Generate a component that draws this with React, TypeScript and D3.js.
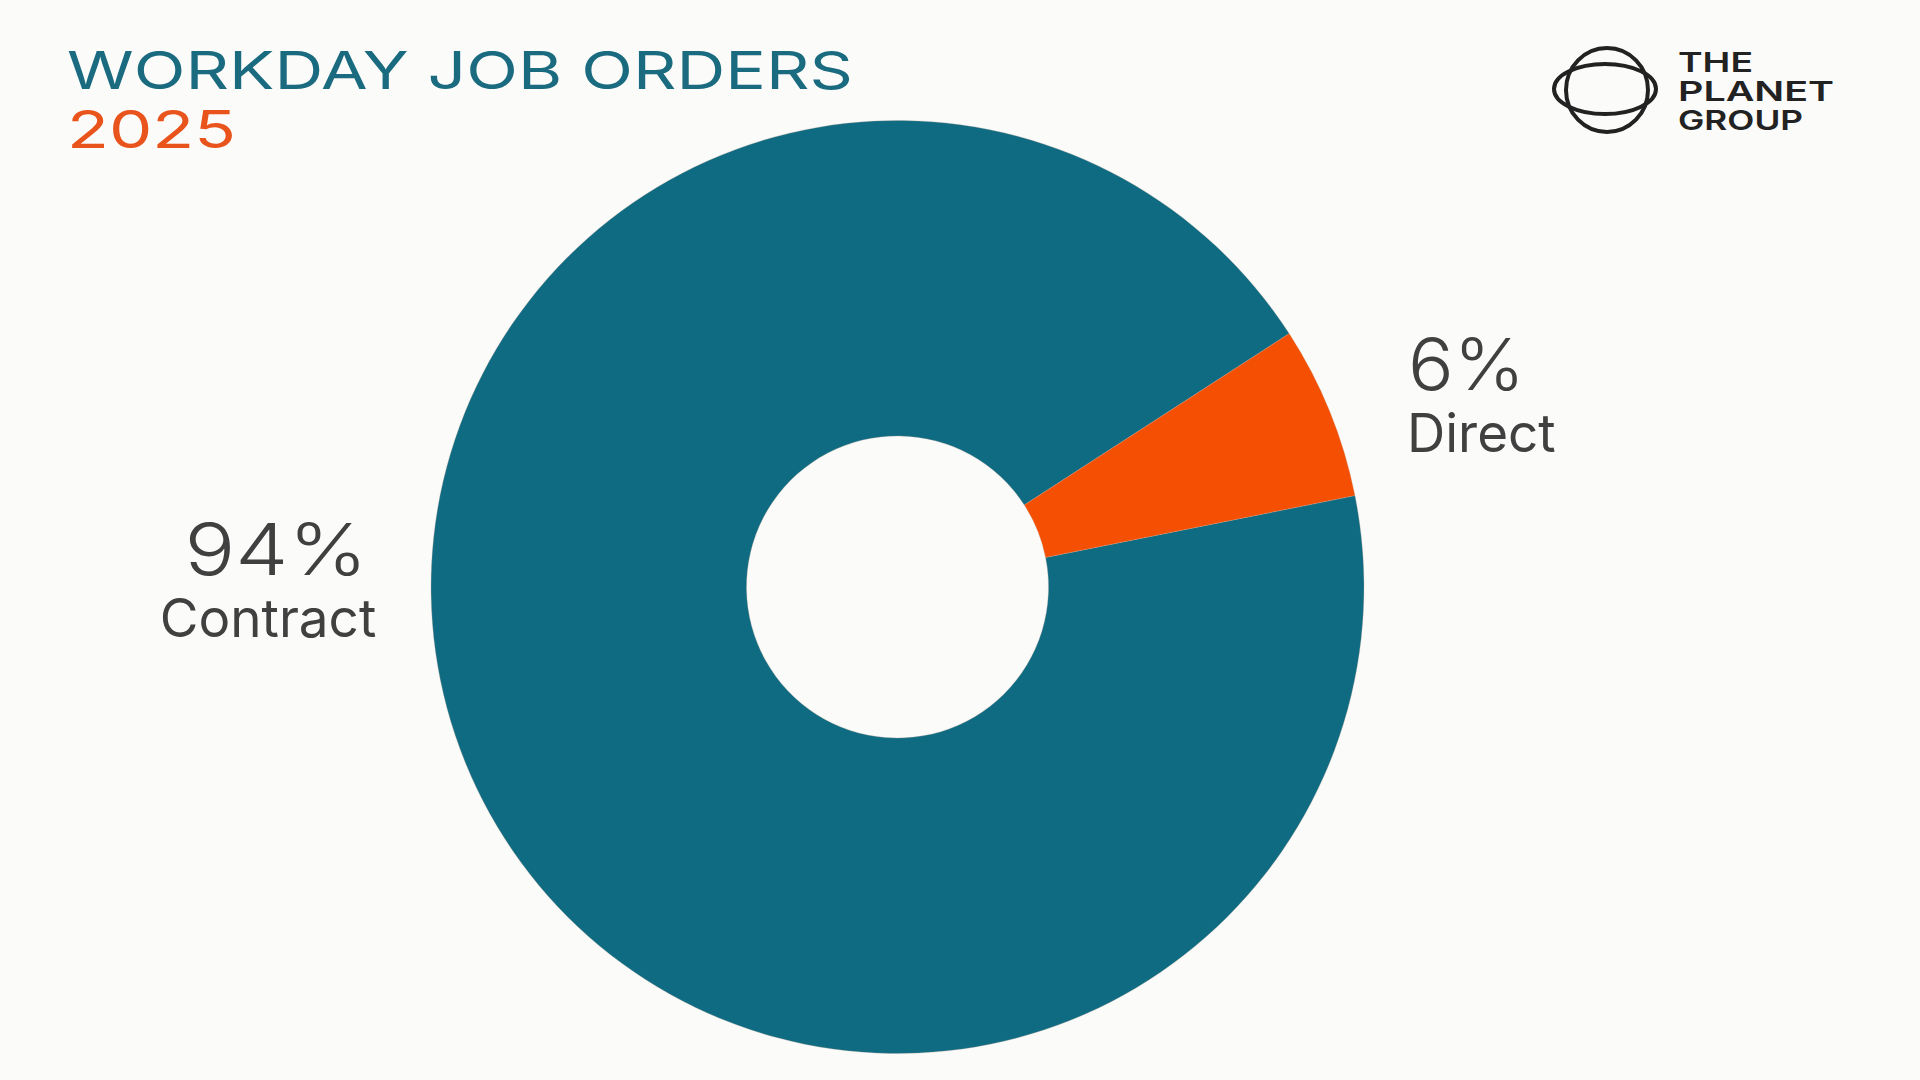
import React from "react";
import * as d3 from "d3";

const categories = ["Contract", "Direct"];
const values = [94, 6];
const percentLabels = ["94%", "6%"];
const colors = ["#0f6b82", "#f44f02"];
const titleText = "WORKDAY JOB ORDERS";
const yearText = "2025";
const logoLines = ["THE", "PLANET", "GROUP"];

const W = 1920;
const H = 1080;

export default function App() {
  const cx = 897.5;
  const cy = 587;
  const outerR = 466.5;
  const innerR = 151;
  const pie = d3
    .pie<number>()
    .sort(null)
    .value((d) => d)
    .startAngle((78.7 * Math.PI) / 180)
    .endAngle((78.7 * Math.PI) / 180 + 2 * Math.PI);
  const arcs = pie(values);
  const arc = d3.arc<d3.PieArcDatum<number>>().innerRadius(innerR).outerRadius(outerR);

  const labelPos = [
    { x: 276, y: 575, sub: 268, subY: 637 },
    { x: 1408, y: 390, sub: 1407, subY: 452 },
  ];

  return (
    <div style={{ position: "fixed", left: 0, top: 0, width: W, height: H }}>
      <svg width={W} height={H} viewBox={`0 0 ${W} ${H}`} style={{ display: "block" }}>
        <rect x={0} y={0} width={W} height={H} fill="#fbfbf9" />
        <text
          x={67}
          y={89}
          fontFamily="Inter, 'DejaVu Sans', sans-serif"
          fontWeight={400}
          fontSize={52}
          fill="#1a6b80"
          textLength={786}
          lengthAdjust="spacingAndGlyphs"
        >
          {titleText}
        </text>
        <text
          x={67}
          y={148}
          fontFamily="Inter, 'DejaVu Sans', sans-serif"
          fontWeight={400}
          fontSize={52}
          fill="#e8541c"
          textLength={169}
          lengthAdjust="spacingAndGlyphs"
        >
          {yearText}
        </text>

        <g transform={`translate(${cx},${cy})`}>
          {arcs.map((a, i) => (
            <path key={categories[i]} d={arc(a) || ""} fill={colors[i]} stroke="#bfa79a" strokeWidth={0.3} />
          ))}
        </g>

        <text
          x={labelPos[0].x}
          y={labelPos[0].y}
          textAnchor="middle"
          fontFamily="Inter, sans-serif"
          fontWeight={300}
          fontSize={72}
          fill="#404040"
          textLength={183}
          lengthAdjust="spacingAndGlyphs"
        >
          {percentLabels[0]}
        </text>
        <text
          x={labelPos[0].sub}
          y={labelPos[0].subY}
          textAnchor="middle"
          fontFamily="Inter, sans-serif"
          fontSize={53}
          fill="#404040"
        >
          {categories[0]}
        </text>
        <text
          x={labelPos[1].x}
          y={labelPos[1].y}
          fontFamily="Inter, sans-serif"
          fontWeight={300}
          fontSize={72}
          fill="#404040"
          textLength={117}
          lengthAdjust="spacingAndGlyphs"
        >
          {percentLabels[1]}
        </text>
        <text
          x={labelPos[1].sub}
          y={labelPos[1].subY}
          fontFamily="Inter, sans-serif"
          fontSize={53}
          fill="#404040"
        >
          {categories[1]}
        </text>

        <g fill="none" stroke="#222" strokeWidth={4}>
          <ellipse cx={1607} cy={90} rx={41} ry={42} />
          <ellipse cx={1605} cy={89} rx={51} ry={25} />
        </g>
        {logoLines.map((t, i) => (
          <text
            key={t}
            x={1678}
            y={72 + i * 29}
            fontFamily="Inter, 'Liberation Sans', sans-serif"
            fontWeight={600}
            fontSize={27}
            fill="#222"
            textLength={[75, 156, 125][i]}
            lengthAdjust="spacingAndGlyphs"
          >
            {t}
          </text>
        ))}
      </svg>
    </div>
  );
}
